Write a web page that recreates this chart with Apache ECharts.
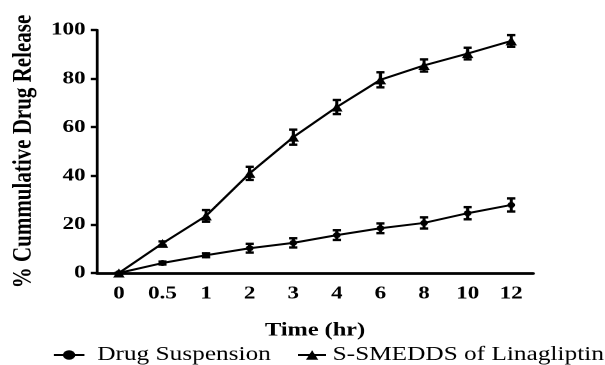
<!DOCTYPE html>
<html>
<head>
<meta charset="utf-8">
<script src="https://cdn.jsdelivr.net/npm/echarts@6/dist/echarts.min.js"></script>
<style>
  html, body { margin: 0; padding: 0; background: #fff; overflow: hidden; }
  /* the source figure is stretched sideways, so draw narrow and widen */
  #chart { width: 473px; height: 365px; transform: scaleX(1.2791); transform-origin: 0 0; }
</style>
</head>
<body>
<div id="chart"></div>
<script>
const times = ['0', '0.5', '1', '2', '3', '4', '6', '8', '10', '12']
const suspension = [0, 4.1, 7.3, 10.2, 12.4, 15.6, 18.4, 20.6, 24.6, 28.0]
const suspensionSd = [0, 0.6, 0.8, 1.8, 1.9, 2.0, 2.0, 2.3, 2.5, 2.7]
const smedds = [0, 12.2, 23.5, 41.0, 55.9, 68.3, 79.5, 85.4, 90.3, 95.5]
const smeddsSd = [0, 0.8, 2.4, 2.7, 3.1, 2.9, 3.1, 2.5, 2.4, 2.4]
const seriesNames = ['Drug Suspension', 'S-SMEDDS of Linagliptin']

const font = '"Liberation Serif", "Times New Roman", serif'

const errorData = (vals, sds) => vals.map((v, i) => [i, v - sds[i], v + sds[i]])

const renderError = (params, api) => {
  const lo = api.coord([api.value(0), api.value(1)])
  const hi = api.coord([api.value(0), api.value(2)])
  const w = 3.2
  const style = { stroke: '#000', lineWidth: 2.4 }
  return {
    type: 'group',
    children: [
      { type: 'line', shape: { x1: lo[0], y1: lo[1], x2: hi[0], y2: hi[1] }, style },
      { type: 'line', shape: { x1: lo[0] - w, y1: lo[1], x2: lo[0] + w, y2: lo[1] }, style },
      { type: 'line', shape: { x1: hi[0] - w, y1: hi[1], x2: hi[0] + w, y2: hi[1] }, style },
    ],
  }
}

const lineSeries = (name, data, symbol, size) => ({
  name,
  type: 'line',
  data,
  symbol,
  symbolSize: size,
  lineStyle: { color: '#000', width: 2 },
  itemStyle: { color: '#000' },
  z: 3,
})

const errorSeries = (vals, sds) => ({
  type: 'custom',
  data: errorData(vals, sds),
  encode: { x: 0, y: [1, 2] },
  renderItem: renderError,
  z: 2,
})

const legendFor = (name, left, iconW, padLeft) => ({
  data: [name],
  left,
  top: 340,
  itemWidth: iconW,
  itemHeight: 12,
  textStyle: { fontFamily: font, fontSize: 19.8, color: '#000', padding: [0, 0, 0, padLeft] },
})

const chart = echarts.init(document.getElementById('chart'), null, { renderer: 'canvas', devicePixelRatio: 2 })
chart.setOption({
  animation: false,
  backgroundColor: '#fff',
  grid: { left: 74.3, right: 56.3, top: 30, bottom: 92 },
  legend: [legendFor(seriesNames[0], 36, 24, 5), legendFor(seriesNames[1], 227, 22, 0)],
  xAxis: {
    type: 'category',
    data: times,
    boundaryGap: true,
    name: 'Time (hr)',
    nameLocation: 'middle',
    nameGap: 48,
    nameTextStyle: { fontFamily: font, fontSize: 19, fontWeight: 'bold', color: '#000' },
    axisLine: { lineStyle: { color: '#000', width: 2.8 } },
    axisTick: { alignWithLabel: true, length: 5, lineStyle: { color: '#000', width: 2 } },
    axisLabel: { fontFamily: font, fontSize: 18, fontWeight: 'bold', color: '#000', margin: 12 },
    splitLine: { show: false },
  },
  yAxis: {
    type: 'value',
    min: 0,
    max: 100,
    interval: 20,
    name: '% Cummulative Drug Release',
    nameLocation: 'middle',
    nameGap: 46,
    nameTextStyle: { fontFamily: font, fontSize: 21, fontWeight: 'bold', color: '#000' },
    axisLine: { show: true, lineStyle: { color: '#000', width: 2.2 } },
    axisTick: { show: true, length: 5, lineStyle: { color: '#000', width: 2.4 } },
    axisLabel: { fontFamily: font, fontSize: 18, fontWeight: 'bold', color: '#000', margin: 9 },
    splitLine: { show: false },
  },
  series: [
    errorSeries(suspension, suspensionSd),
    errorSeries(smedds, smeddsSd),
    lineSeries(seriesNames[0], suspension, 'circle', 6),
    lineSeries(seriesNames[1], smedds, 'triangle', 9),
  ],
})
</script>
</body>
</html>
